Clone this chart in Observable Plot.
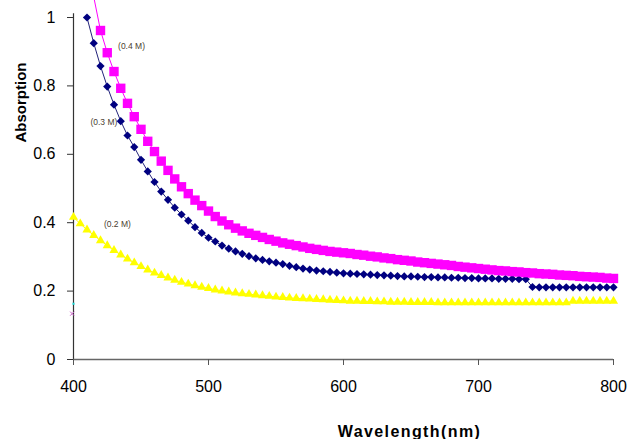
<!DOCTYPE html>
<html>
<head>
<meta charset="utf-8">
<script src="https://cdn.jsdelivr.net/npm/d3@7"></script>
<script src="https://cdn.jsdelivr.net/npm/@observablehq/plot@0.6"></script>
<style>
  html, body { margin: 0; padding: 0; background: #fff; }
  #chart svg { display: block; }
</style>
</head>
<body>
<div id="chart"></div>
<script>
// ---- Data ----
const wavelength = [
  400,405,410,415,420,425,430,435,440,445,
  450,455,460,465,470,475,480,485,490,495,
  500,505,510,515,520,525,530,535,540,545,
  550,555,560,565,570,575,580,585,590,595,
  600,605,610,615,620,625,630,635,640,645,
  650,655,660,665,670,675,680,685,690,695,
  700,705,710,715,720,725,730,735,740,745,
  750,755,760,765,770,775,780,785,790,795,
  800
];

// 0.3 M (navy diamonds)
const absorption03 = [
  null,null,1.000,0.925,0.858,0.798,0.745,0.697,0.655,0.621,
  0.584,0.550,0.519,0.491,0.467,0.444,0.424,0.406,0.387,0.370,
  0.356,0.345,0.333,0.324,0.316,0.309,0.302,0.296,0.291,0.287,
  0.283,0.279,0.274,0.270,0.266,0.263,0.260,0.258,0.256,0.254,
  0.252,0.251,0.250,0.249,0.248,0.247,0.246,0.245,0.244,0.243,
  0.243,0.242,0.241,0.241,0.240,0.240,0.239,0.239,0.238,0.238,
  0.237,0.237,0.237,0.236,0.236,0.236,0.235,0.235,0.212,0.211,
  0.211,0.211,0.211,0.211,0.211,0.211,0.211,0.211,0.211,0.211,
  0.211
];

// 0.4 M (magenta squares)
const absorption04 = [
  null,null,null,1.060,0.962,0.897,0.842,0.793,0.749,0.710,
  0.673,0.638,0.608,0.580,0.553,0.528,0.505,0.485,0.466,0.450,
  0.434,0.418,0.405,0.394,0.384,0.376,0.369,0.363,0.357,0.351,
  0.346,0.341,0.337,0.333,0.329,0.325,0.322,0.319,0.316,0.314,
  0.312,0.310,0.307,0.305,0.302,0.300,0.297,0.295,0.292,0.290,
  0.288,0.285,0.283,0.281,0.279,0.277,0.275,0.272,0.270,0.268,
  0.266,0.264,0.262,0.260,0.259,0.257,0.256,0.254,0.253,0.251,
  0.250,0.249,0.247,0.246,0.245,0.243,0.242,0.241,0.240,0.238,
  0.237
];

// 0.2 M (yellow triangles)
const absorption02 = [
  0.416,0.397,0.379,0.363,0.348,0.333,0.319,0.306,0.294,0.283,
  0.272,0.262,0.253,0.246,0.239,0.232,0.226,0.221,0.216,0.212,
  0.208,0.204,0.201,0.198,0.195,0.193,0.191,0.189,0.187,0.185,
  0.183,0.182,0.180,0.179,0.178,0.177,0.176,0.175,0.174,0.173,
  0.172,0.171,0.171,0.170,0.170,0.169,0.169,0.168,0.168,0.168,
  0.167,0.167,0.167,0.167,0.166,0.166,0.166,0.166,0.166,0.166,
  0.166,0.166,0.166,0.166,0.166,0.166,0.166,0.166,0.166,0.166,
  0.166,0.166,0.166,0.166,0.171,0.171,0.171,0.171,0.171,0.171,
  0.171
];

// stray single points at the start of the axis
const strayWavelength = [400, 399];
const strayAbsorption = [0.163, 0.134];

// series labels drawn on the chart (data coordinates)
const labelText = ["(0.4 M)", "(0.3 M)", "(0.2 M)"];
const labelWavelength = [433, 412.5, 422.5];
const labelAbsorption = [0.916, 0.693, 0.395];

// axis ticks
const xTicks = [400, 500, 600, 700, 800];
const xTickLabels = ["400", "500", "600", "700", "800"];
const yTicks = [0, 0.2, 0.4, 0.6, 0.8, 1];
const yTickLabels = ["0", "0.2", "0.4", "0.6", "0.8", "1"];

const xTitle = "Wavelength(nm)";
const yTitle = "Absorption";

// ---- Build tidy tables ----
function tidy(values) {
  const out = [];
  values.forEach((v, i) => { if (v != null) out.push({w: wavelength[i], v}); });
  return out;
}
const s03 = tidy(absorption03);
const s04 = tidy(absorption04);
const s02 = tidy(absorption02);
const labels = labelText.map((t, i) => ({t, w: labelWavelength[i], v: labelAbsorption[i]}));
const stray = strayWavelength.map((w, i) => ({w, v: strayAbsorption[i]}));
const inRange = d => d.v <= 1.001;

const chart = Plot.plot({
  width: 630,
  height: 439,
  marginLeft: 73,
  marginRight: 17,
  marginTop: 17,
  marginBottom: 80,
  x: {domain: [400, 800]},
  y: {domain: [0, 1]},
  style: {fontFamily: "'Liberation Sans', Arial, sans-serif", background: "#fff", color: "#000", overflow: "hidden"},
  marks: [
    // axis lines
    Plot.ruleX([400], {y1: 0, y2: 1.011, stroke: "#333", strokeWidth: 1.2}),
    Plot.ruleY([0], {x1: 400, x2: 800, stroke: "#666", strokeWidth: 1.3}),
    Plot.axisX({ticks: xTicks, tickFormat: d => xTickLabels[xTicks.indexOf(d)], tickSize: 6, tickPadding: 15, fontSize: 16, stroke: "#555", label: null}),
    Plot.axisY({ticks: yTicks, tickFormat: d => yTickLabels[yTicks.indexOf(d)], tickSize: 6, tickPadding: 12, fontSize: 16, stroke: "#333", label: null}),

    // lines
    Plot.line(s02, {x: "w", y: "v", stroke: "#FFFF00", strokeWidth: 1}),
    Plot.line(s03, {x: "w", y: "v", stroke: "#22227a", strokeWidth: 1}),
    Plot.line(s04, {x: "w", y: "v", stroke: "#FF00FF", strokeWidth: 1}),

    // markers
    Plot.dot(s02, {x: "w", y: "v", symbol: "triangle", r: 3.4, fill: "#FFFF00", stroke: "none"}),
    Plot.dot(s03, {x: "w", y: "v", symbol: "diamond2", r: 3.7, fill: "#000080", stroke: "none"}),
    Plot.dot(s04.filter(inRange), {x: "w", y: "v", symbol: "square", r: 5.3, fill: "#FF00FF", stroke: "none"}),

    // stray marks
    Plot.dot(stray.slice(0, 1), {x: "w", y: "v", symbol: "square", r: 1.2, fill: "#22dddd", stroke: "none"}),
    Plot.dot(stray.slice(1), {x: "w", y: "v", symbol: "times", r: 2, stroke: "#cc66cc", strokeWidth: 1}),

    // series labels
    Plot.text(labels, {x: "w", y: "v", text: "t", textAnchor: "start", fontSize: 8.5, fill: "#4a4030"}),

    // axis titles
    Plot.text([yTitle], {frameAnchor: "left", dx: -52, dy: -86, rotate: -90, textAnchor: "middle", lineAnchor: "middle", fontWeight: "bold", fontSize: 15, fill: "#000"}),
    Plot.text([xTitle], {frameAnchor: "bottom", dx: 66, dy: 77, textAnchor: "middle", lineAnchor: "bottom", fontWeight: "bold", fontSize: 16, fill: "#000"})
  ]
});

// widen the x title letter spacing as in the reference
d3.select(chart).selectAll("text").filter(function() { return this.textContent === xTitle; })
  .attr("letter-spacing", "1.4px");

document.getElementById("chart").appendChild(chart);
</script>
</body>
</html>
